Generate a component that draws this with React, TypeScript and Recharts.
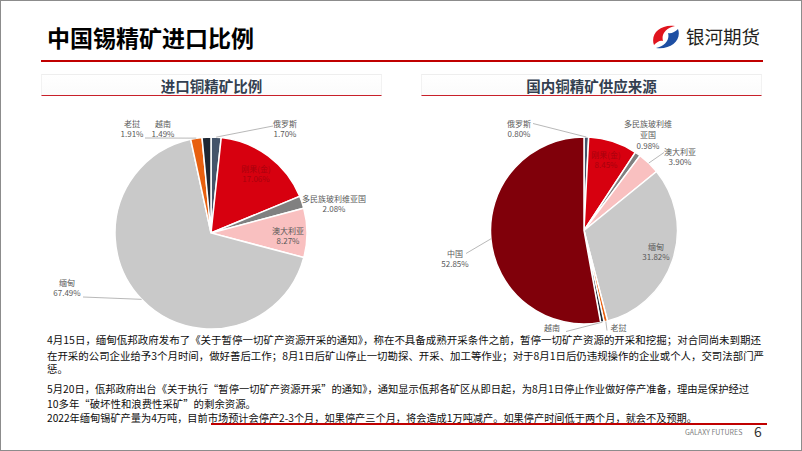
import React from 'react';
import { PieChart, Pie, Cell } from 'recharts';

const pageTitle = '中国锡精矿进口比例';
const brandName = '银河期货';
const leftTitle = '进口铜精矿比例';
const rightTitle = '国内铜精矿供应来源';

const leftNames = ['俄罗斯', '刚果(金)', '多民族玻利维亚国', '澳大利亚', '缅甸', '老挝', '越南'];
const leftValues = [1.7, 17.06, 2.08, 8.27, 67.49, 1.91, 1.49];

const rightNames = ['俄罗斯', '刚果(金)', '多民族玻利维亚国', '澳大利亚', '缅甸', '老挝', '越南', '中国'];
const rightValues = [0.8, 8.45, 0.98, 3.9, 31.82, 0.6, 0.6, 52.85];

const paragraphLines = [
  '4月15日，缅甸佤邦政府发布了《关于暂停一切矿产资源开采的通知》，称在不具备成熟开采条件之前，暂停一切矿产资源的开采和挖掘；对合同尚未到期还',
  '在开采的公司企业给予3个月时间，做好善后工作；8月1日后矿山停止一切勘探、开采、加工等作业；对于8月1日后仍违规操作的企业或个人，交司法部门严',
  '惩。',
  '5月20日，佤邦政府出台《关于执行“暂停一切矿产资源开采”的通知》，通知显示佤邦各矿区从即日起，为8月1日停止作业做好停产准备，理由是保护经过',
  '10多年“破坏性和浪费性采矿”的剩余资源。',
  '2022年缅甸锡矿产量为4万吨，目前市场预计会停产2-3个月，如果停产三个月，将会造成1万吨减产。如果停产时间低于两个月，就会不及预期。',
];
const footerBrand = 'GALAXY FUTURES';
const pageNumber = '6';

const sliceColors: Record<string, string> = {
  '俄罗斯': '#44546A',
  '刚果(金)': '#D7000F',
  '多民族玻利维亚国': '#808080',
  '澳大利亚': '#F9C0C0',
  '缅甸': '#C9C9C9',
  '老挝': '#E8600F',
  '越南': '#1E2733',
  '中国': '#80000A',
};

type Place = {
  dx: number;
  dy: number;
  lines?: string[];
  end?: [number, number];
  color?: string;
  hidePct?: boolean;
};

const leftPlaces: Record<string, Place> = {
  '俄罗斯': { dx: 74, dy: -110, end: [62, -107] },
  '刚果(金)': { dx: 45, dy: -65, color: '#A8000C' },
  '多民族玻利维亚国': { dx: 123, dy: -35 },
  '澳大利亚': { dx: 77, dy: -3 },
  '缅甸': { dx: -144, dy: 49, end: [-128, 64] },
  '老挝': { dx: -79, dy: -110, end: [-66, -95] },
  '越南': { dx: -48, dy: -110 },
};

const rightPlaces: Record<string, Place> = {
  '俄罗斯': { dx: -65, dy: -107.5, end: [-51, -107] },
  '刚果(金)': { dx: 22, dy: -76.5, color: '#A8000C' },
  '多民族玻利维亚国': { dx: 64, dy: -107, lines: ['多民族玻利维', '亚国'] },
  '澳大利亚': { dx: 96, dy: -79.5, end: [80, -78] },
  '缅甸': { dx: 72, dy: 15.5 },
  '中国': { dx: -129, dy: 22.5, end: [-118, 23] },
  '越南': { dx: -32, dy: 96.5, end: [-18, 101], hidePct: true },
  '老挝': { dx: 34.5, dy: 96.5, end: [23, 100], hidePct: true },
};

const RAD = Math.PI / 180;
const labelFont = '"Noto Sans CJK SC", "Liberation Sans", sans-serif';

function makeLabel(places: Record<string, Place>) {
  return (props: any) => {
    const { cx, cy, midAngle, outerRadius, value } = props;
    const name = props.name ?? props.payload?.name;
    const p = places[name];
    if (!p) return null;
    const texts = [...(p.lines ?? [name])];
    if (!p.hidePct) texts.push(Number(value).toFixed(2) + '%');
    const ex = cx + outerRadius * Math.cos(-midAngle * RAD);
    const ey = cy + outerRadius * Math.sin(-midAngle * RAD);
    return (
      <g>
        {p.end && (
          <path
            d={`M${ex},${ey}L${cx + p.end[0]},${cy + p.end[1]}`}
            stroke="#A6A6A6"
            strokeWidth={0.8}
            fill="none"
          />
        )}
        {texts.map((t, i) => (
          <text
            key={i}
            x={cx + p.dx}
            y={cy + p.dy + i * 10.8}
            textAnchor="middle"
            dominantBaseline="central"
            fontSize={8}
            fontFamily={labelFont}
            fill={p.color ?? '#595959'}
          >
            {t}
          </text>
        ))}
      </g>
    );
  };
}

const leftData = leftNames.map((n, i) => ({ name: n, value: leftValues[i] }));
const rightData = rightNames.map((n, i) => ({ name: n, value: rightValues[i] }));

const cjk = '"Noto Sans CJK SC", sans-serif';

function SubTitle({ left, width, text }: { left: number; width: number; text: string }) {
  return (
    <div
      style={{
        position: 'absolute',
        left,
        top: 73,
        width,
        height: 22,
        boxSizing: 'border-box',
        borderTop: '1px solid #EEEEEE',
        borderLeft: '1px solid #F2F2F2',
        borderRight: '1px solid #F2F2F2',
        borderBottom: '1.5px solid #C8202A',
        background: 'linear-gradient(#ffffff, #fbfbfb)',
        textAlign: 'center',
        fontFamily: cjk,
        fontWeight: 700,
        fontSize: 14.5,
        lineHeight: '21px',
        color: '#333F50',
      }}
    >
      {text}
    </div>
  );
}

export default function App() {
  const lineY = [338.5, 354, 367.5, 387, 402, 416];
  const lineLen: (number | undefined)[] = [714, 717, undefined, 702, undefined, 650];
  return (
    <div
      style={{
        position: 'absolute',
        left: 0,
        top: 0,
        width: 802,
        height: 451,
        boxSizing: 'border-box',
        border: '1.5px solid #8C8C8C',
        background: '#fff',
        overflow: 'hidden',
      }}
    >
      <div
        style={{
          position: 'absolute',
          left: 46,
          top: 22,
          fontFamily: cjk,
          fontWeight: 700,
          fontSize: 23,
          lineHeight: '28px',
          color: '#000',
          whiteSpace: 'nowrap',
        }}
      >
        {pageTitle}
      </div>
      <div style={{ position: 'absolute', left: 40, top: 59, width: 722, height: 2, background: '#C00000' }} />
      <svg style={{ position: 'absolute', left: 650, top: 22 }} width={30} height={28} viewBox="0 0 30 28">
        <path d="M3,22 C-1,11 9,1 24,3 C15,5 10,11 12,18 C9,17 6,19 3,22 Z" fill="#E0141E" />
        <path d="M27,6 C31,17 20,27 5,25 C14,23 19,17 17,10 C20,11 24,9 27,6 Z" fill="#1E4FA3" />
      </svg>
      <div
        style={{
          position: 'absolute',
          left: 685,
          top: 23,
          fontFamily: cjk,
          fontSize: 18.5,
          lineHeight: '24px',
          color: '#231F20',
          whiteSpace: 'nowrap',
        }}
      >
        {brandName}
      </div>

      <SubTitle left={40} width={341} text={leftTitle} />
      <SubTitle left={420} width={341} text={rightTitle} />

      <div style={{ position: 'absolute', left: 20, top: 100 }}>
        <PieChart width={380} height={240} margin={{ top: 0, right: 0, bottom: 0, left: 0 }}>
          <Pie
            data={leftData}
            dataKey="value"
            nameKey="name"
            cx={190}
            cy={132}
            outerRadius={96}
            startAngle={90}
            endAngle={-270}
            stroke="#ffffff"
            strokeWidth={1.5}
            isAnimationActive={false}
            label={makeLabel(leftPlaces)}
            labelLine={false}
          >
            {leftData.map((d) => (
              <Cell key={d.name} fill={sliceColors[d.name]} />
            ))}
          </Pie>
        </PieChart>
      </div>

      <div style={{ position: 'absolute', left: 410, top: 100 }}>
        <PieChart width={390} height={235} margin={{ top: 0, right: 0, bottom: 0, left: 0 }}>
          <Pie
            data={rightData}
            dataKey="value"
            nameKey="name"
            cx={173}
            cy={129.5}
            outerRadius={93.5}
            startAngle={90}
            endAngle={-270}
            stroke="#ffffff"
            strokeWidth={1.5}
            isAnimationActive={false}
            label={makeLabel(rightPlaces)}
            labelLine={false}
          >
            {rightData.map((d) => (
              <Cell key={d.name} fill={sliceColors[d.name]} />
            ))}
          </Pie>
        </PieChart>
      </div>

      <svg style={{ position: 'absolute', left: 0, top: 0 }} width={802} height={451}>
        {paragraphLines.map((t, i) => (
          <text
            key={i}
            x={46}
            y={lineY[i]}
            dominantBaseline="central"
            fontSize={10.4}
            fontFamily={cjk}
            fill="#0D0D0D"
            textLength={lineLen[i]}
            lengthAdjust={lineLen[i] ? 'spacingAndGlyphs' : undefined}
          >
            {t}
          </text>
        ))}
        <line x1={210} y1={423} x2={766} y2={423} stroke="#C00000" strokeWidth={2} />
        <text x={684} y={431} dominantBaseline="central" fontSize={7} fontFamily={cjk} fill="#808080">
          {footerBrand}
        </text>
        <text x={753} y={430} dominantBaseline="central" fontSize={14} fontFamily={cjk} fill="#333333">
          {pageNumber}
        </text>
      </svg>
    </div>
  );
}
